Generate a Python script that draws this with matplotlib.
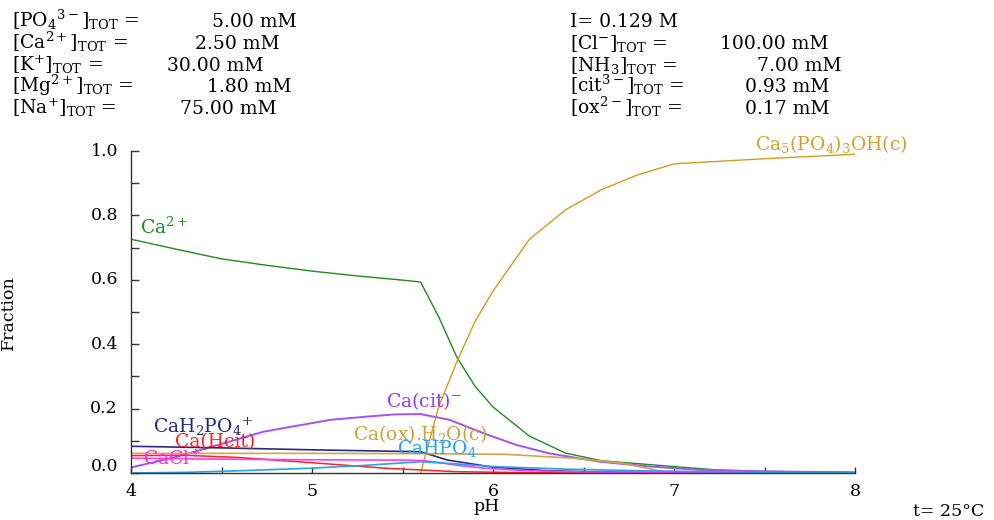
import matplotlib
matplotlib.use("Agg")
import matplotlib.pyplot as plt
from matplotlib.ticker import MultipleLocator

plt.rcParams['font.family'] = ['DejaVu Serif']
plt.rcParams['mathtext.fontset'] = 'dejavuserif'

# ---------------- data ----------------
ph_ca = [4.0, 4.25, 4.5, 4.75, 5.0, 5.25, 5.5, 5.6, 5.7, 5.8, 5.9, 6.0, 6.1, 6.2, 6.4, 6.6, 6.8, 7.0, 7.25, 7.5, 8.0]
fr_ca = [0.726, 0.695, 0.665, 0.645, 0.627, 0.612, 0.599, 0.593, 0.485, 0.36, 0.27, 0.205, 0.16, 0.115, 0.062, 0.038, 0.029, 0.02, 0.009, 0.005, 0.002]

ph_hap = [5.6, 5.7, 5.8, 5.9, 6.0, 6.2, 6.4, 6.6, 6.8, 7.0, 7.25, 7.5, 8.0]
fr_hap = [0.0, 0.206, 0.345, 0.47, 0.565, 0.725, 0.817, 0.88, 0.926, 0.96, 0.968, 0.976, 0.99]

ph_cit = [4.0, 4.25, 4.45, 4.73, 5.1, 5.3, 5.46, 5.6, 5.76, 5.95, 6.13, 6.31, 6.59, 6.87, 7.14, 7.5, 8.0]
fr_cit = [0.017, 0.05, 0.082, 0.128, 0.165, 0.175, 0.182, 0.183, 0.165, 0.123, 0.087, 0.061, 0.035, 0.02, 0.01, 0.005, 0.002]

ph_h2po4 = [4.0, 4.5, 5.0, 5.4, 5.6, 5.75, 6.0, 6.3, 6.6, 7.0, 8.0]
fr_h2po4 = [0.083, 0.078, 0.072, 0.068, 0.066, 0.04, 0.018, 0.007, 0.003, 0.001, 0.0]

ph_ox = [4.0, 5.0, 5.6, 6.07, 6.44, 6.72, 6.9, 6.96]
fr_ox = [0.061, 0.061, 0.060, 0.058, 0.046, 0.030, 0.009, 0.0]

ph_hcit = [4.0, 4.3, 4.6, 5.0, 5.4, 5.8, 6.2, 6.6, 8.0]
fr_hcit = [0.054, 0.055, 0.048, 0.032, 0.015, 0.004, 0.001, 0.0, 0.0]

ph_cacl = [4.0, 4.5, 5.0, 5.5, 5.6, 5.7, 5.8, 5.95, 6.2, 6.5, 7.0, 8.0]
fr_cacl = [0.046, 0.043, 0.041, 0.040, 0.039, 0.033, 0.024, 0.015, 0.007, 0.003, 0.001, 0.0]

ph_hpo4 = [4.0, 4.3, 4.6, 5.0, 5.3, 5.6, 5.8, 6.0, 6.4, 6.8, 7.2, 7.6, 8.0]
fr_hpo4 = [0.0, 0.002, 0.007, 0.015, 0.024, 0.035, 0.028, 0.02, 0.012, 0.007, 0.004, 0.002, 0.001]

names = ["Ca$^{2+}$", "Ca$_5$(PO$_4$)$_3$OH(c)", "Ca(cit)$^{-}$", "CaH$_2$PO$_4$$^{+}$",
         "Ca(ox).H$_2$O(c)", "Ca(Hcit)", "CaCl$^{+}$", "CaHPO$_4$"]

hdr_left_names = ["[PO$_4$$^{3-}$]$_{\\mathrm{TOT}}$", "[Ca$^{2+}$]$_{\\mathrm{TOT}}$",
                  "[K$^{+}$]$_{\\mathrm{TOT}}$", "[Mg$^{2+}$]$_{\\mathrm{TOT}}$",
                  "[Na$^{+}$]$_{\\mathrm{TOT}}$"]
hdr_left_vals = ["5.00", "2.50", "30.00", "1.80", "75.00"]
hdr_right_names = ["[Cl$^{-}$]$_{\\mathrm{TOT}}$", "[NH$_3$]$_{\\mathrm{TOT}}$",
                   "[cit$^{3-}$]$_{\\mathrm{TOT}}$", "[ox$^{2-}$]$_{\\mathrm{TOT}}$"]
hdr_right_vals = ["100.00", "7.00", "0.93", "0.17"]
ionic_strength = "0.129"
temperature = "t= 25\u00b0C"

# ---------------- styling / layout ----------------
W, H = 994, 520
fig = plt.figure(figsize=(W / 100, H / 100), dpi=100)
ax = fig.add_axes([131 / W, 1 - 473 / H, 724 / W, 322 / H])

series = [
    (ph_ca, fr_ca, "#1E8C1E", 1.0),
    (ph_hap, fr_hap, "#D69C1C", 1.0),
    (ph_cit, fr_cit, "#A352F5", 1.4),
    (ph_h2po4, fr_h2po4, "#2A2A84", 1.2),
    (ph_ox, fr_ox, "#D4A646", 1.2),
    (ph_hcit, fr_hcit, "#FF2020", 1.1),
    (ph_cacl, fr_cacl, "#FF3CF0", 1.2),
    (ph_hpo4, fr_hpo4, "#22A4F0", 1.2),
]
label_colors = ["#1E8C1E", "#D4A030", "#9B36F2", "#26267E", "#CFA040", "#FF2020", "#FF2CE6", "#22A4F0"]
label_pos = [(4.05, 0.744), (7.448, 1.003), (5.41, 0.206), (4.12, 0.125),
             (5.225, 0.102), (4.243, 0.080), (4.068, 0.025), (5.468, 0.058)]

for (xs, ys, c, lw) in series:
    ax.plot(xs, ys, color=c, lw=lw, solid_joinstyle='miter')

for name, c, (lx, ly) in zip(names, label_colors, label_pos):
    ax.text(lx, ly, name, color=c, fontsize=13.5, ha='left', va='baseline', clip_on=False)

ax.set_xlim(4, 8)
ax.set_ylim(0, 1)
for s in ['top', 'right']:
    ax.spines[s].set_visible(False)
for s in ['left', 'bottom']:
    ax.spines[s].set_color('#333333')
    ax.spines[s].set_linewidth(1.0)

ax.xaxis.set_major_locator(MultipleLocator(1))
ax.xaxis.set_minor_locator(MultipleLocator(0.5))
ax.yaxis.set_major_locator(MultipleLocator(0.2))
ax.yaxis.set_minor_locator(MultipleLocator(0.1))
ax.tick_params(axis='x', which='both', direction='in', length=4, width=1, color='#333333',
               labelsize=12.5, pad=7)
ax.tick_params(axis='y', which='both', direction='in', length=5.5, width=1, color='#333333',
               labelleft=False)

ytr = ax.get_yaxis_transform()
for v in [0.0, 0.2, 0.4, 0.6, 0.8, 1.0]:
    yy = v + (0.02 if v == 0.0 else 0.0)
    ax.text(-0.018, yy, f"{v:.1f}", transform=ytr, ha='right', va='center', fontsize=12.5)

ax.set_ylabel("Fraction", fontsize=12.5)
ax.yaxis.set_label_coords((17 - 131) / 724, (473 - 313) / 322)
fig.text(487 / W, 1 - 511 / H, "pH", ha='center', va='baseline', fontsize=12.5)
fig.text(949 / W, 1 - 516 / H, temperature, ha='center', va='baseline', fontsize=12.5)

# header
fs_h = 13.5
base_y = [27, 49, 71, 92, 114]
val_x_left = [212, 195, 167, 207, 180]
for i in range(5):
    y = 1 - base_y[i] / H
    fig.text(12 / W, y, hdr_left_names[i] + " =", fontsize=fs_h, va='baseline')
    fig.text(val_x_left[i] / W, y, hdr_left_vals[i] + " mM", fontsize=fs_h, va='baseline')

y0 = 1 - base_y[0] / H
fig.text(570 / W, y0, "I= " + ionic_strength + " M", fontsize=fs_h, va='baseline')
val_x_right = [720, 757, 745, 745]
for i in range(4):
    y = 1 - base_y[i + 1] / H
    fig.text(570 / W, y, hdr_right_names[i] + " =", fontsize=fs_h, va='baseline')
    fig.text(val_x_right[i] / W, y, hdr_right_vals[i] + " mM", fontsize=fs_h, va='baseline')

fig.savefig("out.png", dpi=100)
